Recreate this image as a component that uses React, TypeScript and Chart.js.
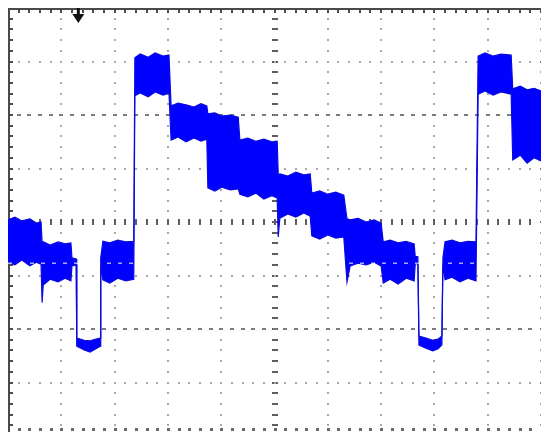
import { useEffect, useRef } from "react";
import { Chart, registerables } from "chart.js";

Chart.register(...registerables);

// Horizontal position of each sample, in screen divisions (0 – 10).
const timeDiv = [
  0.0, 0.13, 0.26, 0.41, 0.53, 0.62,
  0.64, 0.66, 0.79, 0.94, 1.07, 1.18,
  1.2, 1.28,
  1.29, 1.43, 1.54, 1.65, 1.73,
  1.74,
  1.78, 1.91, 2.06, 2.21, 2.36,
  2.38, 2.48, 2.63, 2.76, 2.91, 3.02,
  3.06, 3.19, 3.34, 3.49, 3.62, 3.73,
  3.75, 3.88, 4.01, 4.17, 4.32,
  4.35, 4.5, 4.65, 4.8, 4.95, 5.05,
  5.07, 5.1, 5.25, 5.4, 5.55, 5.67,
  5.7, 5.85, 6.0, 6.15, 6.3,
  6.36, 6.42, 6.57, 6.72, 6.87, 7.0,
  7.04, 7.17, 7.32, 7.47, 7.62,
  7.64, 7.69,
  7.71, 7.84, 7.97, 8.07, 8.14,
  8.16,
  8.2, 8.33, 8.48, 8.63, 8.78,
  8.82, 8.95, 9.1, 9.25, 9.44,
  9.47, 9.61, 9.74, 9.87, 10.0,
];

// Upper edge of the noise band, in vertical divisions (0 = centre line).
const upperDiv = [
  0.04, 0.09, 0.02, 0.06, -0.02, 0.0,
  -0.39, -0.37, -0.43, -0.37, -0.41, -0.39,
  -0.67, -0.69,
  -2.17, -2.21, -2.22, -2.19, -2.17,
  -0.67,
  -0.36, -0.39, -0.34, -0.37, -0.36,
  3.07, 3.14, 3.08, 3.16, 3.1, 3.12,
  2.17, 2.22, 2.19, 2.15, 2.21, 2.17,
  2.02, 2.04, 1.98, 2.0, 1.96,
  1.53, 1.57, 1.51, 1.55, 1.5, 1.51,
  0.88, 0.9, 0.86, 0.93, 0.88, 0.9,
  0.54, 0.58, 0.52, 0.56, 0.5,
  0.06, 0.04, 0.07, 0.0, 0.04, -0.02,
  -0.37, -0.34, -0.39, -0.36, -0.41,
  -0.64, -0.65,
  -2.13, -2.17, -2.21, -2.19, -2.13,
  -0.67,
  -0.37, -0.34, -0.39, -0.36, -0.37,
  3.1, 3.16, 3.1, 3.14, 3.12,
  2.49, 2.54, 2.47, 2.5, 2.45,
];

// Lower edge of the noise band, in vertical divisions.
const lowerDiv = [
  -0.75, -0.8, -0.71, -0.82, -0.75, -0.79,
  -1.51, -1.18, -1.07, -1.12, -1.05, -1.1,
  -0.82, -0.8,
  -2.32, -2.39, -2.43, -2.37, -2.32,
  -0.82,
  -1.08, -1.14, -1.05, -1.1, -1.07,
  2.36, 2.41, 2.34, 2.43, 2.37, 2.41,
  1.53, 1.59, 1.5, 1.57, 1.51, 1.55,
  0.64, 0.58, 0.65, 0.6, 0.62,
  0.52, 0.47, 0.54, 0.43, 0.49, 0.45,
  -0.28, 0.07, 0.15, 0.09, 0.17, 0.11,
  -0.26, -0.32, -0.24, -0.3, -0.28,
  -1.12, -0.82, -0.77, -0.8, -0.75, -0.82,
  -1.14, -1.07, -1.16, -1.05, -1.1,
  -0.79, -0.77,
  -2.3, -2.36, -2.41, -2.37, -2.3,
  -0.8,
  -1.08, -1.03, -1.12, -1.05, -1.1,
  2.39, 2.45, 2.37, 2.43, 2.39,
  1.16, 1.25, 1.1, 1.2, 1.14,
];

const triggerDiv = 1.31; // trigger position marker
const cursorDiv = -0.77; // dashed reference cursor
const bottomEdgeDiv = -3.87;

const graticule = {
  id: "graticule",
  beforeDatasetsDraw(chart: any) {
    const { ctx, chartArea, scales } = chart;
    const xs = scales.x;
    const ys = scales.y;
    ctx.save();

    // vertical division lines
    for (let i = 1; i <= 10; i++) {
      const px = Math.round(xs.getPixelForValue(i));
      const centre = i === 5;
      for (let j = -20; j <= 20; j++) {
        const py = Math.round(ys.getPixelForValue(j * 0.2));
        if (py < chartArea.top + 4 || py > chartArea.bottom) continue;
        if (centre) {
          ctx.fillStyle = "#5e5e5e";
          ctx.fillRect(px - 3, py - 1, 6, 2);
        } else {
          ctx.fillStyle = j % 5 === 0 ? "#7a7a7a" : "#a8a8a8";
          ctx.fillRect(px - 1, py - 1, 2, 2);
        }
      }
    }

    // horizontal division lines
    for (const r of [3, 2, 1, 0, -1, -2, -3]) {
      const py = Math.round(ys.getPixelForValue(r));
      for (let k = 1; k < 50; k++) {
        const px = Math.round(xs.getPixelForValue(k * 0.2));
        if (r === 0) {
          ctx.fillStyle = "#5e5e5e";
          ctx.fillRect(px - 1, py - 3, 2, 6);
        } else if (Math.abs(r) === 2) {
          ctx.fillStyle = "#7a7a7a";
          ctx.fillRect(px - 2, py - 1, 4, 2);
        } else {
          ctx.fillStyle = "#a8a8a8";
          ctx.fillRect(px - 1, py - 1, 2, 2);
        }
      }
    }

    // bottom edge row
    {
      const py = Math.round(ys.getPixelForValue(bottomEdgeDiv));
      ctx.fillStyle = "#6a6a6a";
      for (let k = 1; k < 50; k++) {
        const px = Math.round(xs.getPixelForValue(k * 0.2));
        ctx.fillRect(px - 1, py - 1, 3, 3);
      }
    }

    // top frame with ticks
    ctx.fillStyle = "#4a4a4a";
    ctx.fillRect(chartArea.left, chartArea.top, chartArea.right - chartArea.left, 2);
    for (let k = 1; k <= 50; k++) {
      const px = Math.round(xs.getPixelForValue(k * 0.2));
      ctx.fillRect(px - 1, chartArea.top, 2, 5);
    }
    // left frame with ticks
    ctx.fillRect(chartArea.left, chartArea.top, 2, chartArea.bottom - chartArea.top);
    for (let j = -19; j <= 20; j++) {
      const py = Math.round(ys.getPixelForValue(j * 0.2));
      if (py > chartArea.bottom) continue;
      ctx.fillRect(chartArea.left, py - 1, 5, 2);
    }
    ctx.restore();
  },
  afterDatasetsDraw(chart: any) {
    const { ctx, chartArea, scales } = chart;
    const xs = scales.x;
    const ys = scales.y;
    ctx.save();

    // dashed cursor shows light over the trace only
    const cy = ys.getPixelForValue(cursorDiv);
    ctx.globalCompositeOperation = "source-atop";
    ctx.strokeStyle = "rgba(225,225,255,0.75)";
    ctx.lineWidth = 1.5;
    ctx.setLineDash([4, 7]);
    ctx.beginPath();
    ctx.moveTo(chartArea.left, cy);
    ctx.lineTo(chartArea.right, cy);
    ctx.stroke();
    ctx.setLineDash([]);
    ctx.globalCompositeOperation = "source-over";

    // trigger marker
    const tx = xs.getPixelForValue(triggerDiv);
    const top = chartArea.top;
    ctx.fillStyle = "#111";
    ctx.fillRect(tx - 1, top, 3, 9);
    ctx.beginPath();
    ctx.moveTo(tx - 5.5, top + 6);
    ctx.lineTo(tx + 6.5, top + 6);
    ctx.lineTo(tx + 0.5, top + 15);
    ctx.closePath();
    ctx.fill();
    ctx.restore();
  },
};

export default function App() {
  const canvasRef = useRef<HTMLCanvasElement | null>(null);

  useEffect(() => {
    const canvas = canvasRef.current;
    if (!canvas) return;
    const upper = timeDiv.map((t, i) => ({ x: t, y: upperDiv[i] }));
    const lower = timeDiv.map((t, i) => ({ x: t, y: lowerDiv[i] }));
    const chart = new Chart(canvas, {
      type: "line",
      data: {
        datasets: [
          {
            data: upper,
            borderColor: "#0a0ae0",
            borderWidth: 1.2,
            pointRadius: 0,
            tension: 0,
            fill: false,
          },
          {
            data: lower,
            borderColor: "#0a0ae0",
            borderWidth: 1.2,
            pointRadius: 0,
            tension: 0,
            fill: "-1",
            backgroundColor: "#0000ff",
          },
        ],
      },
      options: {
        responsive: true,
        maintainAspectRatio: false,
        animation: false,
        events: [],
        layout: { padding: 0 },
        plugins: {
          legend: { display: false },
          tooltip: { enabled: false },
        },
        scales: {
          x: { type: "linear", min: 0, max: 10, display: false },
          y: { type: "linear", min: -3.925, max: 4, display: false },
        },
      },
      plugins: [graticule],
    });
    return () => chart.destroy();
  }, []);

  return (
    <div
      style={{
        position: "absolute",
        left: 8,
        top: 8,
        width: 533,
        height: 424,
        overflow: "hidden",
      }}
    >
      <canvas ref={canvasRef} />
    </div>
  );
}
